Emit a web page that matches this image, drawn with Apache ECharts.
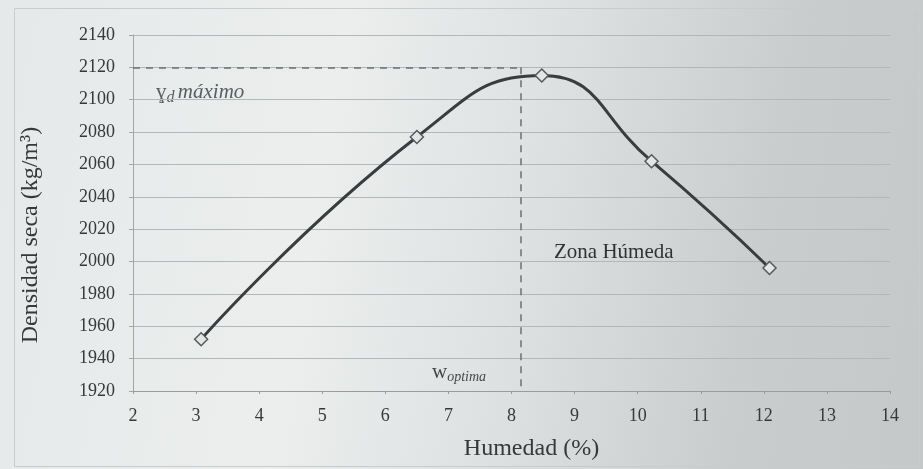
<!DOCTYPE html>
<html>
<head>
<meta charset="utf-8">
<script src="https://cdn.jsdelivr.net/npm/echarts@6/dist/echarts.min.js"></script>
<style>
  html, body { margin: 0; padding: 0; }
  body {
    width: 923px; height: 469px;
    background: linear-gradient(100deg, #e6e9e9 0%, #eceeee 35%, #dfe2e2 55%, #c9cdcd 80%, #c4c8c8 100%);
  }
  #chart { width: 923px; height: 469px; }
</style>
</head>
<body>
<div id="chart"></div>
<script>
// humedad (%) / densidad seca (kg/m3)
const humedad = [3.08, 6.5, 8.48, 10.22, 12.09]
const densidad = [1952, 2077, 2115, 2062, 1996]
const yMaximo = 2120
const wOptima = 8.15

const chart = echarts.init(document.getElementById('chart'))
const txt = '#353939'
const serif = 'Liberation Serif'

const option = {
  backgroundColor: 'transparent',
  textStyle: { fontFamily: serif },
  grid: { left: 133, right: 33, top: 35, bottom: 78 },
  xAxis: {
    type: 'value',
    min: 2, max: 14, interval: 1,
    name: 'Humedad (%)',
    nameLocation: 'middle',
    nameGap: 46,
    nameTextStyle: { color: txt, fontSize: 24, fontFamily: serif, padding: [0, 0, 0, 40] },
    axisLine: { show: true, lineStyle: { color: '#9a9c9c', width: 1 } },
    axisTick: { show: true, length: 3, lineStyle: { color: '#9a9c9c' } },
    axisLabel: { color: txt, fontSize: 18, margin: 16, fontFamily: serif },
    splitLine: { show: false }
  },
  yAxis: {
    type: 'value',
    min: 1920, max: 2140, interval: 20,
    name: 'Densidad seca (kg/m³)',
    nameLocation: 'middle',
    nameGap: 90,
    nameTextStyle: { color: txt, fontSize: 24, fontFamily: serif, padding: [0, 44, 0, 0] },
    axisLine: { show: true, lineStyle: { color: '#a4a6a6', width: 1 } },
    axisTick: { show: true, length: 4, lineStyle: { color: '#a4a6a6' } },
    axisLabel: { color: txt, fontSize: 18, margin: 18, fontFamily: serif, formatter: v => String(v) },
    splitLine: { show: true, lineStyle: { color: '#b4b7b7', width: 1 } }
  },
  series: [{
    type: 'line',
    data: humedad.map((h, i) => [h, densidad[i]]),
    smooth: 0.5,
    symbol: 'diamond',
    symbolSize: 13,
    showAllSymbol: true,
    lineStyle: { color: '#3a3d3d', width: 3 },
    itemStyle: { color: '#e4e6e6', borderColor: '#555a5a', borderWidth: 1.5 },
    markLine: {
      silent: true,
      symbol: 'none',
      label: { show: false },
      lineStyle: { color: '#6c7070', type: [7, 6], width: 1.5 },
      data: [
        [{ coord: [2, yMaximo] }, { coord: [wOptima, yMaximo] }],
        [{ coord: [wOptima, yMaximo] }, { coord: [wOptima, 1920] }]
      ]
    },
    z: 5
  }],
  graphic: [
    {
      type: 'text', left: 156, top: 82,
      style: {
        text: '{g|ɣ}{s|d} {i|máximo}',
        rich: {
          g: { fontSize: 21, fill: '#56605e', fontFamily: serif },
          s: { fontSize: 16, fill: '#56605e', fontStyle: 'italic', fontFamily: serif, padding: [10, 0, 0, 0] },
          i: { fontSize: 21, fill: '#56605e', fontStyle: 'italic', fontFamily: serif }
        }
      }
    },
    {
      type: 'text', left: 554, top: 242,
      style: { text: 'Zona Húmeda', fontSize: 21, fill: '#2e3232', fontFamily: serif }
    },
    {
      type: 'text', left: 432, top: 362,
      style: {
        text: '{w|w}{s|optima}',
        rich: {
          w: { fontSize: 21, fill: '#444848', fontFamily: serif },
          s: { fontSize: 14, fill: '#444848', fontStyle: 'italic', fontFamily: serif, padding: [10, 0, 0, 0] }
        }
      }
    },
    {
      type: 'rect', left: 12, top: 6,
      shape: { width: 905, height: 458 },
      style: { fill: 'none', stroke: '#c9cccc', lineWidth: 1 },
      silent: true
    }
  ]
}
chart.setOption(option)
window.addEventListener('resize', () => {
  chart.resize()
})
</script>
</body>
</html>
